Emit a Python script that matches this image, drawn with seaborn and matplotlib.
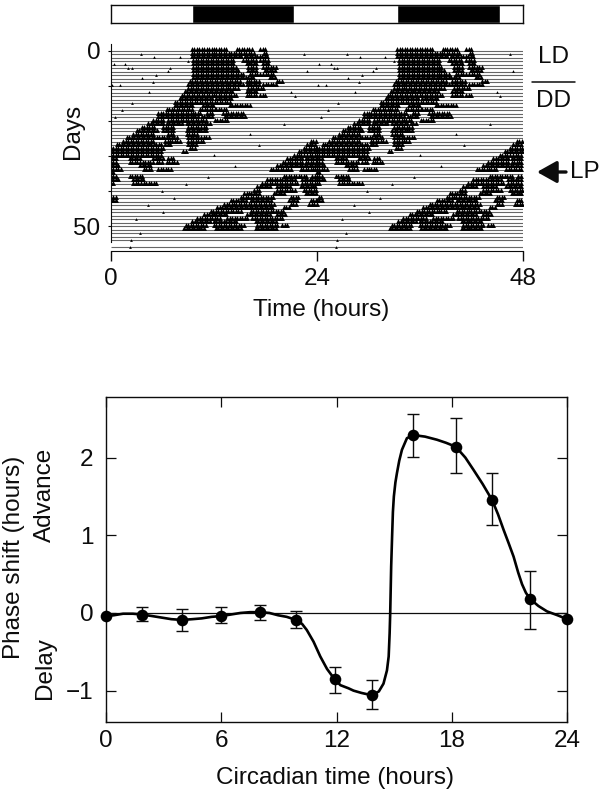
import numpy as np
import pandas as pd
import matplotlib
matplotlib.use("Agg")
import matplotlib.pyplot as plt
import seaborn as sns

W, H = 602, 794

# ---------- Actogram: activity bouts per day, in hours of the day ----------
activity_bouts = [
    [(9.4,13.5),(14.65,16.6),(17.4,18.1)],
    [(9.4,14.1),(14.3,16.8),(17.8,18.1)],
    [(9.4,15.4),(15.6,18.3)],
    [(9.6,14.3),(15.4,16.98),(17.4,18.3)],
    [(9.6,14.3),(15.8,16.98),(17.75,18.5)],
    [(9.6,14.65),(16.0,16.98),(17.75,19.3)],
    [(9.6,15.0),(16.0,16.98),(17.95,19.1)],
    [(9.6,15.4),(16.2,17.4),(17.75,19.1)],
    [(9.6,15.2),(15.4,16.6),(18.5,19.1)],
    [(9.2,15.0),(15.8,17.4),(19.3,19.9)],
    [(9.0,15.4),(15.8,17.4),(17.75,19.3)],
    [(9.0,15.0),(16.0,17.75)],
    [(8.6,14.3),(15.8,17.0)],
    [(8.24,14.65),(15.8,17.2),(17.4,18.1)],
    [(8.04,11.9),(12.3,14.26)],
    [(7.46,11.9),(12.1,13.87)],
    [(7.46,9.6),(10.76,11.93),(13.87,16.4)],
    [(6.5,9.6),(10.37,12.1),(12.3,13.7)],
    [(5.5,10.5),(11.2,12.0),(13.1,15.6)],
    [(5.5,10.37),(10.57,11.93),(13.29,15.81)],
    [(4.93,6.1),(6.68,8.82),(9.0,11.15),(12.12,13.68)],
    [(4.35,6.1),(6.49,8.24),(8.82,10.76),(10.96,11.54)],
    [(3.6,5.32),(6.1,7.46),(9.0,10.37),(10.5,11.15)],
    [(3.0,5.32),(6.1,7.46),(8.82,10.37),(10.5,11.15)],
    [(2.6,5.13),(6.68,7.46),(8.82,10.18)],
    [(1.83,5.13),(5.32,7.65),(9.0,10.37),(10.5,11.54)],
    [(1.44,5.13),(6.3,8.04),(9.0,10.76),(23.3,24)],
    [(0.66,6.1),(6.3,6.88),(9.0,10.0),(22.9,24)],
    [(0,6.1),(9.2,9.8),(22.5,24)],
    [(0,6.0),(8.4,8.82),(21.9,24)],
    [(0,6.0),(21.34,22.7),(22.9,24)],
    [(0,0.85),(2.2,3.4),(4.9,6.1),(6.68,7.27),(20.56,22.5),(22.7,24)],
    [(0,0.66),(2.2,3.2),(3.4,5.13),(5.32,6.1),(6.49,7.65),(20.0,22.5),(22.7,24)],
    [(0,1.05),(3.4,4.74),(19.4,24)],
    [(0,1.44),(3.8,4.74),(5.5,7.07),(18.62,20.95),(22.1,24)],
    [(0,0.3)],
    [(0,0.66),(2.2,3.8),(20.17,22.9),(23.47,24)],
    [(0,1.05),(2.6,3.8),(18.23,21.53),(22.31,24)],
    [(0,0.3),(2.6,3.6),(3.8,5.5),(17.65,21.73),(22.31,24)],
    [(17.07,18.62),(19.4,20.95),(22.1,24)],
    [(16.68,17.45),(19.4,21.53),(22.5,24)],
    [(15.51,17.45),(19.0,20.17),(22.7,24)],
    [(0.25,0.66),(15.12,19.0),(20.95,21.92)],
    [(0,0.85),(13.96,15.9),(16.29,18.62),(20.76,21.73),(23.28,24)],
    [(13.18,19.0),(20.95,21.73),(23.09,24)],
    [(12.4,19.0),(20.17,20.76)],
    [(11.63,15.12),(16.29,20.17)],
    [(10.85,13.57),(15.9,18.62),(19.4,20.37)],
    [(10.07,12.8),(13.57,15.9),(16.48,20.17)],
    [(9.49,11.63),(12.0,14.73),(16.87,19.4)],
    [(8.71,11.24),(12.0,15.51),(17.07,19.4),(19.98,20.76)],
    [(8.52,10.85),(12.2,15.12),(16.87,19.4)],
]
# isolated short bursts: (day, hour)
speck_days  = [1,1,2,2,3,4,4,5,5,5,6,6,7,8,9,10,10,12,12,13,15,17,19,21,24,27,30,33,36,38,40,42,44,46,48,52,54,56]
speck_hours = [3.5,22.5,5.0,8.0,9.0,0.3,1.6,2.0,2.4,6.9,6.6,22.9,5.3,3.6,4.9,0.1,1.1,4.4,21.0,21.4,2.5,1.3,0.5,20.2,16.2,17.2,12.0,14.5,11.3,8.8,5.9,7.4,4.3,6.1,2.9,3.4,2.3,2.2]
baseline_days = list(range(0, 55)) + [56]
dark_starts = [9.48, 33.4]
dark_ends   = [21.3, 45.3]

# ---------- Phase response curve ----------
ct      = [0, 1.86, 3.96, 6, 8.02, 9.9, 11.9, 13.84, 15.99, 18.2, 20.1, 22.07, 24]
shift   = [-0.04, -0.02, -0.09, -0.04, 0.01, -0.09, -0.855, -1.06, 2.29, 2.14, 1.45, 0.18, -0.08]
err_hi  = [None, 0.08, 0.055, 0.08, 0.10, 0.03, -0.69, -0.86, 2.56, 2.51, 1.80, 0.545, None]
err_lo  = [None, -0.10, -0.23, -0.13, -0.09, -0.20, -1.035, -1.24, 2.01, 1.80, 1.13, -0.21, None]
curve_x = [0, 0.4, 0.89, 1.4, 1.86, 2.4, 2.9, 3.4, 3.96, 4.5, 4.98, 5.5, 6, 6.5, 7, 7.5, 8.02, 8.5, 8.96, 9.4, 9.9, 10.2, 10.45, 10.8, 11.15, 11.5, 11.9, 12.2, 12.62, 12.88, 13.3, 13.84, 14.2, 14.44, 14.62, 14.71, 14.76, 14.79, 14.84, 14.89, 14.93, 14.98, 15.06, 15.14, 15.26, 15.4, 15.66, 16.0, 16.6, 17.22, 17.7, 18.2, 18.7, 19.13, 19.6, 20.1, 20.4, 20.69, 20.95, 21.21, 21.45, 21.65, 21.85, 22.07, 22.5, 22.95, 23.5, 24]
curve_y = [-0.04, -0.03, -0.01, -0.01, -0.02, -0.04, -0.06, -0.08, -0.09, -0.08, -0.07, -0.05, -0.04, -0.02, 0.0, 0.01, 0.01, 0.0, -0.03, -0.05, -0.09, -0.14, -0.22, -0.37, -0.56, -0.72, -0.855, -0.93, -0.97, -1.0, -1.03, -1.06, -1.01, -0.91, -0.74, -0.56, -0.26, 0.0, 0.6, 1.0, 1.3, 1.5, 1.68, 1.8, 1.96, 2.1, 2.25, 2.29, 2.27, 2.23, 2.19, 2.14, 2.0, 1.84, 1.66, 1.45, 1.27, 1.07, 0.9, 0.725, 0.52, 0.37, 0.26, 0.18, 0.09, 0.02, -0.03, -0.08]

sns.set_theme(style="ticks")
plt.rcParams["font.family"] = ["Liberation Sans", "DejaVu Sans"]
FS = 17.5
INK = "#0c0c0c"

fig = plt.figure(figsize=(W / 100, H / 100), dpi=100, facecolor="white")

def box(x0, y0, x1, y1):
    return [x0 / W, 1 - y1 / H, (x1 - x0) / W, (y1 - y0) / H]

def put(x, y, s, **kw):
    kw.setdefault("fontsize", FS)
    kw.setdefault("ha", "center")
    kw.setdefault("va", "center")
    kw.setdefault("color", INK)
    fig.text(x / W, 1 - y / H, s, **kw)

# ---------- LD bar ----------
bar = fig.add_axes(box(111, 5.3, 522.7, 22.7))
bar.barh(0, np.subtract(dark_ends, dark_starts), left=dark_starts, height=1, color="black")
bar.set_xlim(0, 48); bar.set_ylim(-0.5, 0.5)
bar.set_xticks([]); bar.set_yticks([])
for s in bar.spines.values():
    s.set_linewidth(1.0); s.set_color(INK)

# ---------- Actogram ----------
act = fig.add_axes(box(111, 44, 522.7, 250.7))
act.set_xlim(0, 48)
act.set_ylim(57.0, -1.93)
act.hlines(baseline_days, 0, 48, color="#666666", lw=0.8, zorder=1)

rows, hours = [], []
for day, bouts in enumerate(activity_bouts):
    for a, b in bouts:
        for h in np.arange(a, b + 0.01, 0.29):
            rows += [day, day]
            hours += [min(h, 24), min(h, 24) + 24]
marks = pd.DataFrame({"hour": hours, "day": np.array(rows) - 0.4})
sns.scatterplot(data=marks, x="hour", y="day", ax=act, marker="^", s=12.5,
                color="black", linewidth=0, legend=False, zorder=2)
specks = pd.DataFrame({"hour": speck_hours + [h + 24 for h in speck_hours],
                       "day": [d - 0.15 for d in speck_days] * 2})
sns.scatterplot(data=specks, x="hour", y="day", ax=act, marker="^", s=4,
                color="black", linewidth=0, legend=False, zorder=2)
act.set_xticks([0, 24, 48])
act.set_yticks([0, 10, 20, 30, 40, 50])
act.set_yticklabels(["0", "", "", "", "", "50"])
act.set_xlabel(""); act.set_ylabel("")
act.tick_params(axis="x", length=7.5, width=1.0, labelsize=FS, pad=5, colors=INK)
act.tick_params(axis="y", length=2.5, width=0.8, labelsize=FS, pad=5, colors=INK)
act.spines["top"].set_visible(False)
act.spines["right"].set_visible(False)
act.spines["left"].set_bounds(54.5, -1.93)
act.spines["left"].set_linewidth(0.8)
act.spines["bottom"].set_linewidth(0.8)
act.spines["left"].set_color(INK); act.spines["bottom"].set_color(INK)

put(73, 131, "Days", rotation=90)
put(321, 310, "Time (hours)")
put(553, 57, "LD")
put(553, 101, "DD")
fig.add_artist(plt.Line2D([532 / W, 575 / W], [1 - 82 / H] * 2, color=INK, lw=1.1))
put(585, 172, "LP")
ar = dict(arrowstyle="-|>,head_width=0.42,head_length=0.75", color=INK, lw=2.4,
          shrinkA=0, shrinkB=0)
fig.add_artist(matplotlib.patches.FancyArrowPatch(
    (566 / W, 1 - 172 / H), (537 / W, 1 - 172 / H), transform=fig.transFigure,
    mutation_scale=16, **ar))

# ---------- PRC ----------
prc = fig.add_axes(box(106, 397, 567.2, 721.7))
prc.axhline(0, color=INK, lw=0.9, zorder=1)
has_err = [i for i, v in enumerate(err_hi) if v is not None]
ex = [ct[i] for i in has_err]
prc.vlines(ex, [err_lo[i] for i in has_err], [err_hi[i] for i in has_err], color=INK, lw=1.0, zorder=2)
for i in has_err:
    prc.plot([ct[i]], [err_hi[i]], marker="_", ms=9, mew=1.0, color=INK, zorder=2)
    prc.plot([ct[i]], [err_lo[i]], marker="_", ms=9, mew=1.0, color=INK, zorder=2)
sns.lineplot(x=curve_x, y=curve_y, ax=prc, estimator=None, sort=False, color="black",
             lw=1.9, legend=False, zorder=3)
sns.scatterplot(x=ct, y=shift, ax=prc, s=70, color="black", linewidth=0, legend=False,
                zorder=4, clip_on=False)
prc.set_xlim(0, 24)
prc.set_ylim(-1.40, 2.78)
prc.set_xticks([0, 6, 12, 18, 24])
prc.set_yticks([-1, 0, 1, 2])
prc.set_yticklabels(["\u22121", "0", "1", "2"])
prc.tick_params(axis="both", direction="in", length=7.2, width=0.9, labelsize=FS,
                top=True, right=True, colors=INK)
prc.tick_params(axis="x", pad=6)
prc.tick_params(axis="y", pad=9)
for s in prc.spines.values():
    s.set_linewidth(1.0); s.set_color(INK)

put(335, 778, "Circadian time (hours)")
put(14, 557, "Phase shift (hours)", rotation=90)
put(45, 495, "Advance", rotation=90)
put(45, 668, "Delay", rotation=90)

fig.savefig("out.png", dpi=100, facecolor="white")
